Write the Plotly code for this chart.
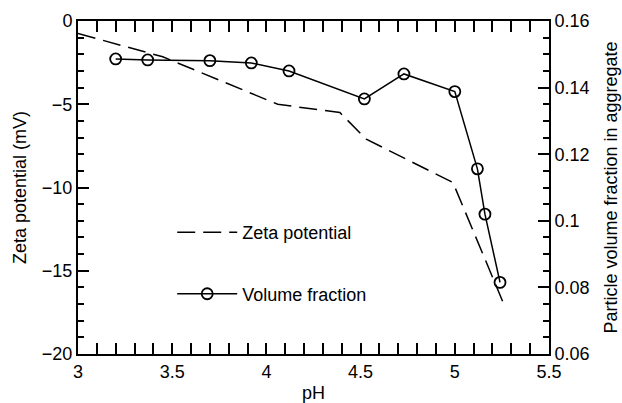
import plotly.graph_objects as go

# Data
zeta_ph = [3.0, 3.45, 4.06, 4.39, 4.53, 4.99, 5.09, 5.26]
zeta_mv = [-0.75, -2.15, -5.0, -5.5, -7.1, -9.7, -12.4, -17.0]

vf_ph = [3.2, 3.37, 3.70, 3.92, 4.12, 4.52, 4.73, 5.0, 5.12, 5.16, 5.24]
vf_val = [0.1486, 0.1483, 0.1481, 0.1474, 0.1450, 0.1366, 0.1441, 0.1388, 0.1156, 0.1020, 0.0815]

x_ticks = [3, 3.5, 4, 4.5, 5, 5.5]
x_labels = ["3", "3.5", "4", "4.5", "5", "5.5"]
y1_ticks = [0, -5, -10, -15, -20]
y2_ticks = [0.06, 0.08, 0.1, 0.12, 0.14, 0.16]
y2_labels = ["0.06", "0.08", "0.1", "0.12", "0.14", "0.16"]

FONT = "Liberation Sans, Arial, sans-serif"
FS = 18

fig = go.Figure()
fig.add_trace(go.Scatter(
    x=zeta_ph, y=zeta_mv, name="Zeta potential", mode="lines",
    line=dict(color="black", width=1.5, dash="18px,8px"),
    legendgroup="a", yaxis="y"))
fig.add_trace(go.Scatter(
    x=vf_ph, y=vf_val, name="Volume fraction", mode="lines+markers",
    line=dict(color="black", width=1.5),
    marker=dict(symbol="circle-open", size=11, color="black", line=dict(width=1.8, color="black")),
    legendgroup="b", yaxis="y2"))

axis_common = dict(
    showline=True, linecolor="black", linewidth=2, ticks="inside",
    ticklen=11, tickwidth=1.5, tickcolor="black", showgrid=False, zeroline=False,
    automargin=False,
    tickfont=dict(family=FONT, size=FS, color="black"),
)

fig.update_layout(
    width=622, height=403,
    margin=dict(l=78, r=73, t=21, b=49),
    paper_bgcolor="white", plot_bgcolor="white",
    font=dict(family=FONT, size=FS, color="black"),
    showlegend=True,
    legend=dict(x=0.2, y=0.42, xanchor="left", yanchor="top",
                bgcolor="rgba(0,0,0,0)", font=dict(family=FONT, size=FS),
                itemwidth=60,
                tracegroupgap=35, traceorder="grouped"),
    xaxis=dict(range=[3, 5.5], tickvals=x_ticks, ticktext=x_labels, mirror="allticks",
               minor=dict(dtick=0.1, ticks="inside", ticklen=6, tickwidth=1.5, tickcolor="black"),
               title=dict(text="pH", font=dict(family=FONT, size=FS), standoff=7),
               **axis_common),
    yaxis=dict(range=[-20, 0], tickvals=y1_ticks,
               minor=dict(dtick=1, ticks="inside", ticklen=6, tickwidth=1.5, tickcolor="black"),
               title=dict(text="Zeta potential (mV)", font=dict(family=FONT, size=FS), standoff=11),
               **axis_common),
    yaxis2=dict(range=[0.06, 0.16], tickvals=y2_ticks, ticktext=y2_labels,
                overlaying="y", side="right",
                minor=dict(dtick=0.005, ticks="inside", ticklen=6, tickwidth=1.5, tickcolor="black"),
                title=dict(text="Particle volume fraction in aggregate", font=dict(family=FONT, size=FS), standoff=16),
                **axis_common),
)

fig.write_html("out.html")
